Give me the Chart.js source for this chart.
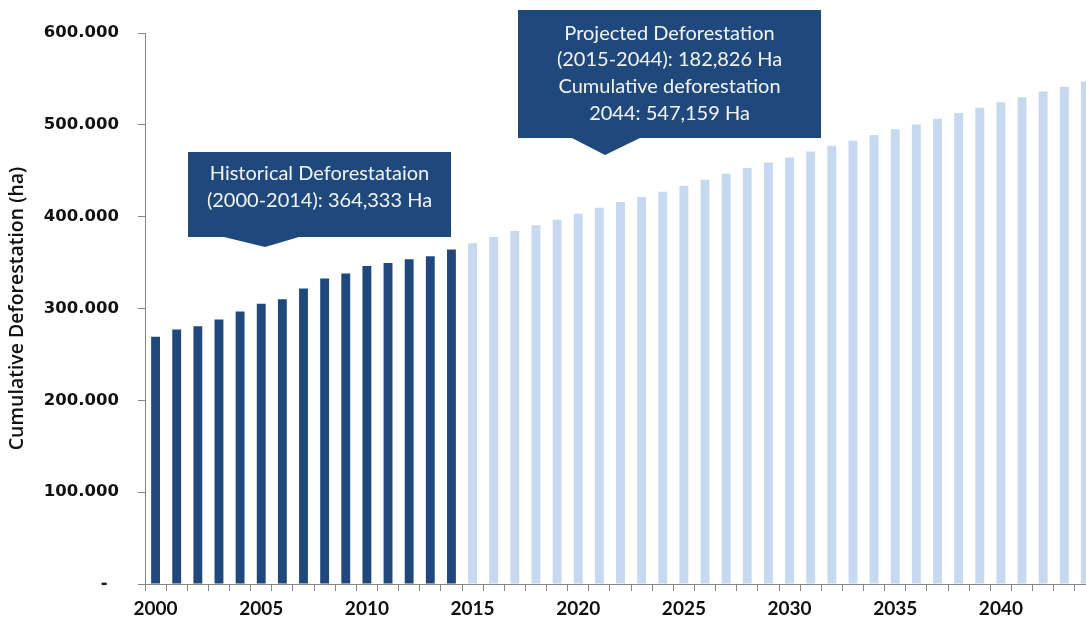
<!DOCTYPE html>
<html>
<head>
<meta charset="utf-8">
<script src="https://cdn.jsdelivr.net/npm/chart.js@4.4.1/dist/chart.umd.min.js"></script>
<style>
  html, body { margin: 0; padding: 0; background: #fff; overflow: hidden; }
  #wrap { width: 1096px; height: 619px; }
</style>
</head>
<body>
<div id="wrap"><canvas id="chart" width="1096" height="619"></canvas></div>
<script>
// Years on the category axis
const years = [
  "2000", "2001", "2002", "2003", "2004", "2005", "2006", "2007", "2008", "2009",
  "2010", "2011", "2012", "2013", "2014", "2015", "2016", "2017", "2018", "2019",
  "2020", "2021", "2022", "2023", "2024", "2025", "2026", "2027", "2028", "2029",
  "2030", "2031", "2032", "2033", "2034", "2035", "2036", "2037", "2038", "2039",
  "2040", "2041", "2042", "2043", "2044",
];

// Cumulative deforestation (ha), 2000-2014
const historical = [
  269200, 277200, 280800, 288000, 296700, 305100, 310100, 321700,
  332600, 338000, 346400, 349600, 353600, 356800, 364333,
];

// Cumulative deforestation (ha), 2015-2044
const projected = [
  371000, 377900, 384400, 390600, 396700, 403300, 409800, 416000, 421400, 427200,
  433700, 440200, 446700, 452900, 459000, 464500, 471000, 477200, 482600, 488800,
  495300, 500300, 506500, 513000, 518500, 524600, 530100, 536200, 541600, 547159,
];

const yTicks = [0, 100000, 200000, 300000, 400000, 500000, 600000];

const callouts = [
  {
    lines: ["Historical Deforestataion", "(2000-2014): 364,333 Ha"],
    box: { x: 188, y: 152, w: 263, h: 85 },
    tip: { x: 265, y: 247, left: 224, right: 299 },
    baseline: 180,
  },
  {
    lines: [
      "Projected Deforestation",
      "(2015-2044): 182,826 Ha",
      "Cumulative deforestation",
      "2044: 547,159 Ha",
    ],
    box: { x: 518, y: 10, w: 303, h: 128 },
    tip: { x: 605, y: 155, left: 572, right: 640 },
    baseline: 39.5,
  },
];

const darkBlue = "#1f497d";
const lightBlue = "#c6d9f1";
const axisGray = "#868686";

// pad the two series so they share one slot per year
const histData = years.map((y, i) => (i < historical.length ? historical[i] : null));
const projData = years.map((y, i) =>
  i >= historical.length ? projected[i - historical.length] : null
);

const formatThousands = (v) =>
  v === 0 ? "-  " : String(v).replace(/\B(?=(\d{3})+(?!\d))/g, ".");

const calloutPlugin = {
  id: "callouts",
  afterDraw(chart) {
    const ctx = chart.ctx;
    ctx.save();
    callouts.forEach((c) => {
      const b = c.box;
      ctx.fillStyle = darkBlue;
      ctx.beginPath();
      ctx.moveTo(b.x, b.y);
      ctx.lineTo(b.x + b.w, b.y);
      ctx.lineTo(b.x + b.w, b.y + b.h);
      ctx.lineTo(c.tip.right, b.y + b.h);
      ctx.lineTo(c.tip.x, c.tip.y);
      ctx.lineTo(c.tip.left, b.y + b.h);
      ctx.lineTo(b.x, b.y + b.h);
      ctx.closePath();
      ctx.fill();

      ctx.fillStyle = "#f4f4f4";
      ctx.font = "20px Lato";
      ctx.textAlign = "center";
      ctx.textBaseline = "alphabetic";
      c.lines.forEach((line, i) => {
        ctx.fillText(line, b.x + b.w / 2, c.baseline + i * 26.7);
      });
    });
    ctx.restore();
  },
};

new Chart(document.getElementById("chart"), {
  type: "bar",
  data: {
    labels: years,
    datasets: [
      {
        label: "Historical",
        data: histData,
        backgroundColor: darkBlue,
        categoryPercentage: 1,
        barPercentage: 0.42,
      },
      {
        label: "Projected",
        data: projData,
        backgroundColor: lightBlue,
        categoryPercentage: 1,
        barPercentage: 0.42,
      },
    ],
  },
  options: {
    responsive: false,
    animation: false,
    layout: { padding: { top: 33, right: 0, bottom: 0, left: 0 } },
    plugins: {
      legend: { display: false },
      tooltip: { enabled: false },
    },
    scales: {
      x: {
        stacked: true,
        afterFit: (scale) => {
          scale.height = 35;
        },
        grid: {
          display: true,
          drawOnChartArea: false,
          drawTicks: true,
          tickLength: 7,
          color: axisGray,
        },
        border: { display: true, color: axisGray, width: 1 },
        ticks: {
          autoSkip: false,
          maxRotation: 0,
          padding: 6,
          color: "#111",
          font: { family: "Lato", size: 19, weight: "bold" },
          callback: function (value) {
            const label = this.getLabelForValue(value);
            return Number(label) % 5 === 0 ? label : "";
          },
        },
      },
      y: {
        stacked: true,
        min: 0,
        max: 600000,
        afterFit: (scale) => {
          scale.width = 145;
        },
        afterBuildTicks: (scale) => {
          scale.ticks = yTicks.map((v) => ({ value: v }));
        },
        grid: {
          display: true,
          drawOnChartArea: false,
          drawTicks: true,
          tickLength: 7,
          color: axisGray,
        },
        border: { display: true, color: axisGray, width: 1 },
        ticks: {
          padding: 19,
          color: "#111",
          font: { family: "DejaVu Sans", size: 16.5, weight: "bold" },
          callback: (value) => formatThousands(value),
        },
        title: {
          display: true,
          text: "Cumulative Deforestation (ha)",
          color: "#111",
          padding: { top: 6, bottom: 0 },
          font: { family: "Open Sans", size: 19.5, weight: "600" },
        },
      },
    },
  },
  plugins: [calloutPlugin],
});
</script>
</body>
</html>
